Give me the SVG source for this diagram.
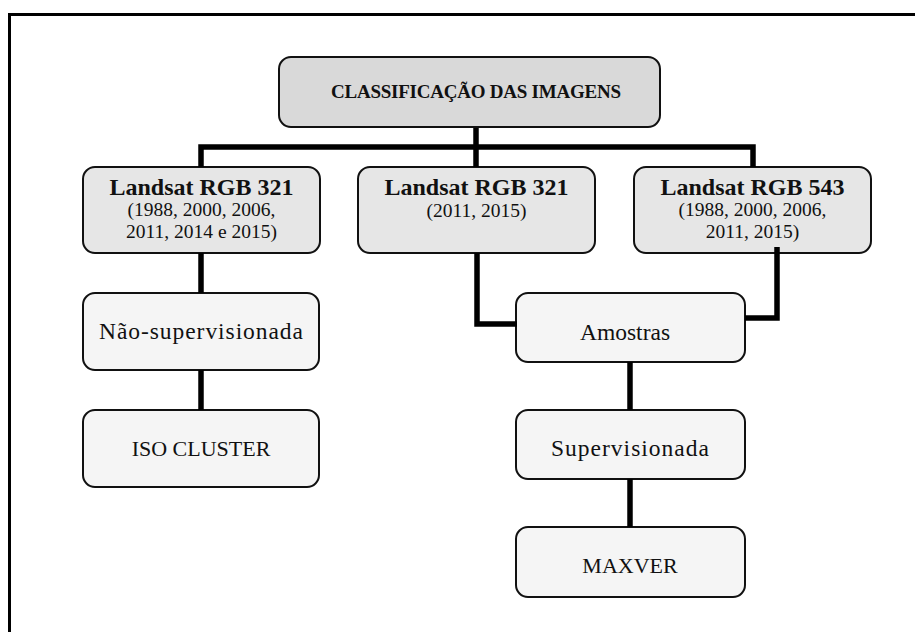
<svg xmlns="http://www.w3.org/2000/svg" width="915" height="632" viewBox="0 0 915 632">
  <style>
    .box { stroke: #111; stroke-width: 2; }
    .top { fill: #d9d9d9; }
    .mid { fill: #e6e6e6; }
    .low { fill: #f5f5f5; }
    text { font-family: "Liberation Serif", "Times New Roman", serif; fill: #111; text-anchor: middle; }
    .h1 { font-size: 19px; font-weight: bold; }
    .h2 { font-size: 24px; font-weight: bold; }
    .sub { font-size: 19.5px; }
    .lbl { font-size: 22px; }
    .lbl2 { font-size: 23.5px; }
    .conn { fill: none; stroke: #000; stroke-width: 5.5; stroke-linejoin: miter; stroke-linecap: butt; }
  </style>
  <rect x="0" y="0" width="915" height="632" fill="#fff"/>
  <rect x="9.5" y="14.5" width="1000" height="1000" fill="none" stroke="#000" stroke-width="3"/>

  <g id="n-classificacao">
    <rect class="box top" x="279" y="57" width="381" height="70" rx="12"/>
    <text class="h1" x="476" y="98" textLength="290" lengthAdjust="spacing">CLASSIFICAÇÃO DAS IMAGENS</text>
  </g>
  <g id="n-landsat321a">
    <rect class="box mid" x="83" y="167" width="237" height="86" rx="12"/>
    <text class="h2" x="201.5" y="195">Landsat RGB 321</text>
    <text class="sub" x="201.5" y="216">(1988, 2000, 2006,</text>
    <text class="sub" x="201.5" y="238">2011, 2014 e 2015)</text>
  </g>
  <g id="n-landsat321b">
    <rect class="box mid" x="358" y="167" width="237" height="86" rx="12"/>
    <text class="h2" x="476.5" y="195">Landsat RGB 321</text>
    <text class="sub" x="476.5" y="217">(2011, 2015)</text>
  </g>
  <g id="n-landsat543">
    <rect class="box mid" x="634" y="167" width="237" height="86" rx="12"/>
    <text class="h2" x="752.5" y="195">Landsat RGB 543</text>
    <text class="sub" x="752.5" y="216">(1988, 2000, 2006,</text>
    <text class="sub" x="752.5" y="238">2011, 2015)</text>
  </g>
  <g id="n-nao-supervisionada">
    <rect class="box low" x="83" y="293" width="236" height="77" rx="12"/>
    <text class="lbl2" x="201" y="339" textLength="204" lengthAdjust="spacing">Não-supervisionada</text>
  </g>
  <g id="n-iso-cluster">
    <rect class="box low" x="83" y="410" width="236" height="77" rx="12"/>
    <text class="lbl" x="201" y="456">ISO CLUSTER</text>
  </g>
  <g id="n-amostras">
    <rect class="box low" x="516" y="293" width="229" height="69" rx="12"/>
    <text class="lbl2" x="625" y="340">Amostras</text>
  </g>
  <g id="n-supervisionada">
    <rect class="box low" x="516" y="410" width="229" height="69" rx="12"/>
    <text class="lbl2" x="630" y="456" textLength="158" lengthAdjust="spacing">Supervisionada</text>
  </g>
  <g id="n-maxver">
    <rect class="box low" x="516" y="527" width="229" height="70" rx="12"/>
    <text class="lbl" x="630" y="573">MAXVER</text>
  </g>

  <g id="connectors">
    <path class="conn" d="M476 128 V147"/>
    <path class="conn" d="M201 167 V147 H753 V167"/>
    <path class="conn" d="M476 147 V167"/>
    <path class="conn" d="M201 253 V293"/>
    <path class="conn" d="M201 370 V410"/>
    <path class="conn" d="M477 253 V324 H517"/>
    <path class="conn" d="M777 247 V318 H745"/>
    <path class="conn" d="M630 362 V410"/>
    <path class="conn" d="M630 479 V527"/>
  </g>
</svg>
